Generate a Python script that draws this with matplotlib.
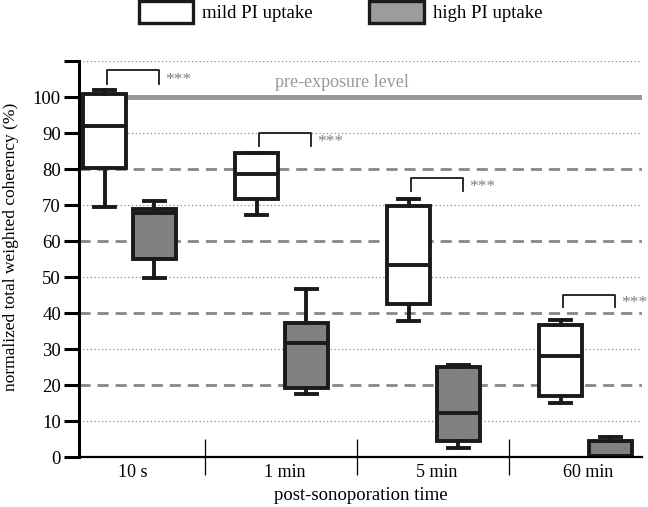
import numpy as np
import matplotlib
matplotlib.use("Agg")
import matplotlib.pyplot as plt
from matplotlib.patches import Patch

plt.rcParams['font.family'] = ['Liberation Serif', 'DejaVu Serif']

times = ['10 s', '1 min', '5 min', '60 min']

# box stats: whisker low, q1, median, q3, whisker high
mild_low = [69.5, 67.3, 37.8, 15.1]
mild_q1 = [80.4, 71.8, 42.4, 17.0]
mild_med = [91.9, 78.6, 53.3, 28.1]
mild_q3 = [100.8, 84.5, 69.7, 36.8]
mild_high = [101.9, 84.5, 71.6, 38.1]

high_low = [49.7, 17.4, 2.6, 0.3]
high_q1 = [55.1, 19.1, 4.4, 0.3]
high_med = [67.7, 31.6, 12.3, 0.3]
high_q3 = [68.8, 37.3, 25.1, 4.4]
high_high = [71.2, 46.8, 25.5, 5.6]

# significance brackets: top and leg bottom
br_top = [107.5, 90.0, 77.5, 45.0]
br_leg = [103.6, 86.4, 73.9, 41.7]

pre_level = 100

def stats(lo, q1, med, q3, hi):
    return [dict(whislo=a, q1=b, med=c, q3=d, whishi=e, fliers=[])
            for a, b, c, d, e in zip(lo, q1, med, q3, hi)]

W, H = 648, 507
fig = plt.figure(figsize=(6.48, 5.07), dpi=100)
ax = fig.add_axes([79 / W, 50 / H, 563 / W, 396 / H])

x = np.arange(len(times))
off = 0.164
w = 0.283

for y in [10, 30, 50, 70, 90, 110]:
    ax.axhline(y, color='#888888', lw=0.9, ls=(0, (1, 2)), zorder=0)
for y in [20, 40, 60, 80]:
    ax.axhline(y, color='#888888', lw=2, ls=(0, (4, 2.5)), zorder=0)
ax.axhline(pre_level, color='#959595', lw=3.5, zorder=1)
ax.text(1.4, 103.9, 'pre-exposure level', color='#999999',
        fontsize=13, ha='center', va='center')

lw = 2.8
common = dict(patch_artist=True, showfliers=False, widths=w,
              whiskerprops=dict(color='#1a1a1a', lw=lw),
              capprops=dict(color='#1a1a1a', lw=lw),
              medianprops=dict(color='#1a1a1a', lw=lw))
ax.bxp(stats(mild_low, mild_q1, mild_med, mild_q3, mild_high), positions=x - off,
       boxprops=dict(facecolor='white', edgecolor='#1a1a1a', lw=lw), **common)
ax.bxp(stats(high_low, high_q1, high_med, high_q3, high_high), positions=x + off,
       boxprops=dict(facecolor='#808080', edgecolor='#1a1a1a', lw=lw), **common)

for i in range(len(times)):
    x0, x1 = x[i] - off + 0.015, x[i] + off + 0.03
    ax.plot([x0, x0, x1, x1], [br_leg[i], br_top[i], br_top[i], br_leg[i]],
            color='#1a1a1a', lw=1.3, zorder=3)
    ax.text(x1 + 0.04, br_leg[i] + 1.0, '***', color='#808080', fontsize=12.5,
            ha='left', va='center')

ax.set_xlim(-0.332, 3.372)
ax.set_ylim(0, 110)
ax.set_yticks(np.arange(0, 111, 10))
ax.set_yticklabels([str(v) for v in range(0, 101, 10)] + [''])
ax.set_xticks(x + 0.02)
ax.set_xticklabels(times)
ax.set_xticks([0.5, 1.5, 2.5], minor=True)
ax.tick_params(axis='x', which='major', length=0, labelsize=13, pad=5)
ax.tick_params(axis='x', which='minor', direction='inout', length=26, width=0.9)
ax.tick_params(axis='y', length=11, width=2.2, labelsize=13.5, pad=2)

for s in ['top', 'right']:
    ax.spines[s].set_visible(False)
ax.spines['left'].set_linewidth(2.2)
ax.spines['bottom'].set_linewidth(1.6)

ax.set_ylabel('normalized total weighted coherency (%)', fontsize=12.5)
ax.yaxis.set_label_coords(-0.106, 0.53)
ax.set_xlabel('post-sonoporation time', fontsize=13.5, labelpad=4)

handles = [Patch(facecolor='white', edgecolor='#1a1a1a', lw=2.4, label='mild PI uptake'),
           Patch(facecolor='#9c9c9c', edgecolor='#1a1a1a', lw=2.4, label='high PI uptake')]
fig.legend(handles=handles, loc='upper left', bbox_to_anchor=(139 / W, 1 - 1 / H), ncol=2,
           frameon=False, fontsize=13.5, handlelength=2.9, handleheight=1.39,
           columnspacing=3.0, handletextpad=0.48, borderpad=0, borderaxespad=0)

fig.savefig('out.png', dpi=100)
